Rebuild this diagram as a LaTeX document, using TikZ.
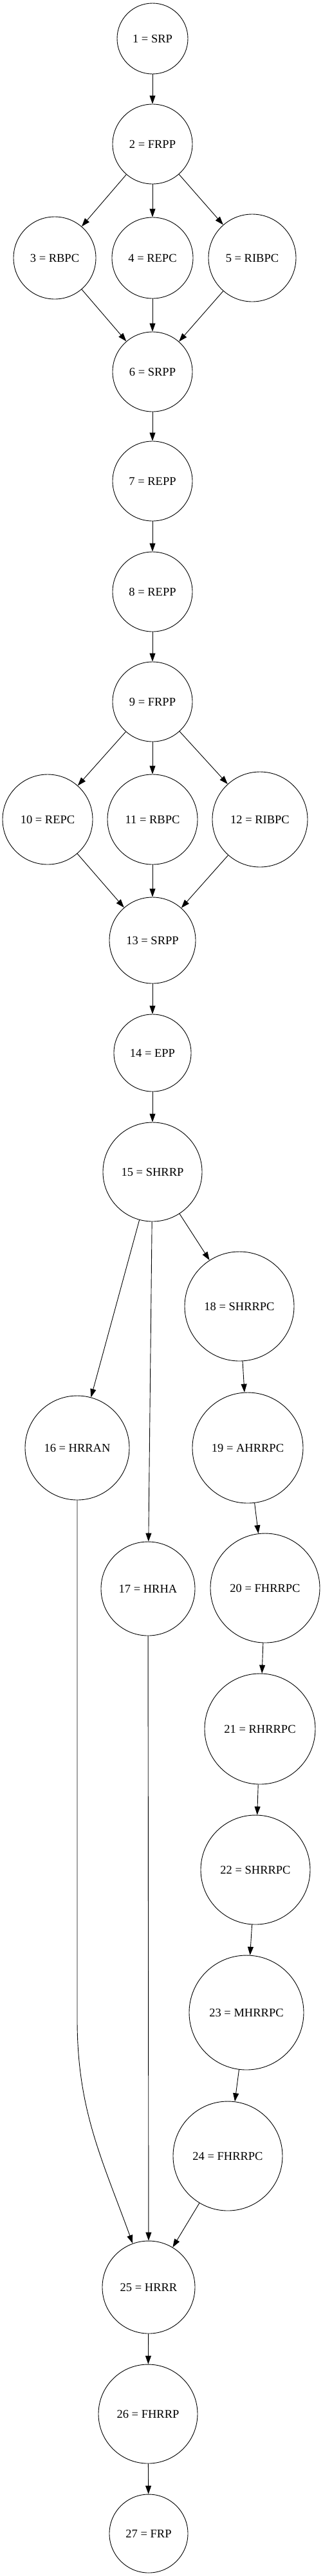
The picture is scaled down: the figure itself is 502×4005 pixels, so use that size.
\documentclass[tikz,border=0pt]{standalone}
\usepackage{fontspec}
\setmainfont{Liberation Serif}
\usetikzlibrary{arrows.meta}

\begin{document}
\begin{tikzpicture}[x=1pt, y=1pt, font=\fontsize{18.5}{22}\selectfont,
    state/.style={circle, draw, line width=0.9pt, inner sep=0pt},
    edge/.style={-{Triangle[length=13pt, width=9pt]}, line width=0.9pt}]
    \useasboundingbox (0,0) rectangle (502,-4005);

    % First block
    \node [state, minimum size=110pt] (srp1) at (237,-60) {1 = SRP};
    \node [state, minimum size=124pt] (frpp2) at (237,-224) {2 = FRPP};
    \node [state, minimum size=128pt] (rbpc3) at (85,-401) {3 = RBPC};
    \node [state, minimum size=126pt] (repc4) at (237,-401) {4 = REPC};
    \node [state, minimum size=136pt] (ribpc5) at (392,-401) {5 = RIBPC};
    \node [state, minimum size=124pt] (srpp6) at (237,-578) {6 = SRPP};
    \node [state, minimum size=124pt] (repp7) at (237,-748) {7 = REPP};
    \node [state, minimum size=124pt] (repp8) at (237,-920) {8 = REPP};

    % Second block
    \node [state, minimum size=124pt] (frpp9) at (237,-1091) {9 = FRPP};
    \node [state, minimum size=140pt] (repc10) at (74,-1274) {10 = REPC};
    \node [state, minimum size=140pt] (rbpc11) at (237,-1274) {11 = RBPC};
    \node [state, minimum size=148pt] (ribpc12) at (404,-1274) {12 = RIBPC};
    \node [state, minimum size=134pt] (srpp13) at (237,-1462) {13 = SRPP};
    \node [state, minimum size=120pt] (epp14) at (237,-1637) {14 = EPP};
    \node [state, minimum size=154pt] (shrrp15) at (237,-1822) {15 = SHRRP};

    % Branches
    \node [state, minimum size=162pt] (hrran16) at (120,-2251) {16 = HRRAN};
    \node [state, minimum size=146pt] (hrha17) at (230,-2470) {17 = HRHA};
    \node [state, minimum size=170pt] (shrrpc18) at (372,-2031) {18 = SHRRPC};
    \node [state, minimum size=172pt] (ahrrpc19) at (385,-2251) {19 = AHRRPC};
    \node [state, minimum size=170pt] (fhrrpc20) at (412,-2469) {20 = FHRRPC};
    \node [state, minimum size=172pt] (rhrrpc21) at (404,-2688) {21 = RHRRPC};
    \node [state, minimum size=170pt] (shrrpc22) at (397,-2907) {22 = SHRRPC};
    \node [state, minimum size=178pt] (mhrrpc23) at (383,-3129) {23 = MHRRPC};
    \node [state, minimum size=170pt] (fhrrpc24) at (354,-3352) {24 = FHRRPC};

    % Last block
    \node [state, minimum size=144pt] (hrrr25) at (231,-3556) {25 = HRRR};
    \node [state, minimum size=154pt] (fhrrp26) at (230,-3753) {26 = FHRRP};
    \node [state, minimum size=122pt] (frp27) at (231,-3939) {27 = FRP};
    \coordinate (bend16) at (120,-3140);

    % Arrows
    \draw[edge] (srp1) -- (frpp2);
    \draw[edge] (frpp2) -- (rbpc3);
    \draw[edge] (frpp2) -- (repc4);
    \draw[edge] (frpp2) -- (ribpc5);
    \draw[edge] (rbpc3) -- (srpp6);
    \draw[edge] (repc4) -- (srpp6);
    \draw[edge] (ribpc5) -- (srpp6);
    \draw[edge] (srpp6) -- (repp7);
    \draw[edge] (repp7) -- (repp8);
    \draw[edge] (repp8) -- (frpp9);
    \draw[edge] (frpp9) -- (repc10);
    \draw[edge] (frpp9) -- (rbpc11);
    \draw[edge] (frpp9) -- (ribpc12);
    \draw[edge] (repc10) -- (srpp13);
    \draw[edge] (rbpc11) -- (srpp13);
    \draw[edge] (ribpc12) -- (srpp13);
    \draw[edge] (srpp13) -- (epp14);
    \draw[edge] (epp14) -- (shrrp15);
    \draw[edge] (shrrp15) -- (hrran16);
    \draw[edge] (shrrp15) -- (hrha17);
    \draw[edge] (shrrp15) -- (shrrpc18);
    \draw[edge] (shrrpc18) -- (ahrrpc19);
    \draw[edge] (ahrrpc19) -- (fhrrpc20);
    \draw[edge] (fhrrpc20) -- (rhrrpc21);
    \draw[edge] (rhrrpc21) -- (shrrpc22);
    \draw[edge] (shrrpc22) -- (mhrrpc23);
    \draw[edge] (mhrrpc23) -- (fhrrpc24);
    \draw[edge] (hrran16) -- (bend16) to[out=-90, in=110] (hrrr25);
    \draw[edge] (hrha17) -- (hrrr25);
    \draw[edge] (fhrrpc24) -- (hrrr25);
    \draw[edge] (hrrr25) -- (fhrrp26);
    \draw[edge] (fhrrp26) -- (frp27);
\end{tikzpicture}
\end{document}
